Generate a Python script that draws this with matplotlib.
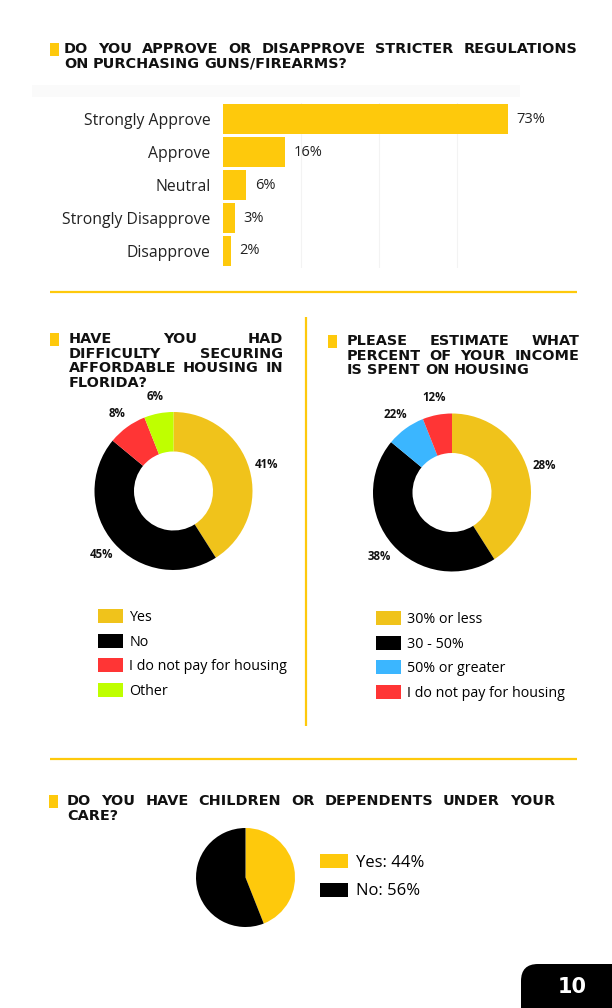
import numpy as np
import matplotlib
matplotlib.use("Agg")
import matplotlib.pyplot as plt
from matplotlib.patches import Rectangle, FancyBboxPatch

# --- data ---
gun_categories = ["Strongly Approve", "Approve", "Neutral", "Strongly Disapprove", "Disapprove"]
gun_values = [73, 16, 6, 3, 2]

housing_labels = ["Yes", "No", "I do not pay for housing", "Other"]
housing_values = [41, 45, 8, 6]

income_labels = ["30% or less", "30 - 50%", "50% or greater", "I do not pay for housing"]
income_wedges = [41, 45, 8, 6]           # slice sizes as drawn
income_pct_text = ["28%", "38%", "22%", "12%"]  # percentages as printed

children_labels = ["Yes", "No"]
children_values = [44, 56]

# --- colours ---
YELLOW = "#FEC90C"
DONUT_YELLOW = "#F0C31B"
RED = "#FF3535"
LIME = "#BFFF00"
BLUE = "#3BB6FF"
BLACK = "#000000"

W, H = 612, 1008
fig = plt.figure(figsize=(W / 100, H / 100), dpi=100)
fig.patch.set_facecolor("white")

TITLE_FONT = dict(family="DejaVu Sans", weight="bold", size=10.4, color="#111111")
BODY = "Open Sans"


def px_axes(x, y, w, h, **kw):
    return fig.add_axes([x / W, 1 - (y + h) / H, w / W, h / H], **kw)


# overlay in pixel coordinates for titles / rules
ov = px_axes(0, 0, W, H, zorder=0)
ov.set_xlim(0, W)
ov.set_ylim(H, 0)
ov.axis("off")
renderer = fig.canvas.get_renderer()


def justified(line, x0, x1, y, justify=True):
    words = line.split()
    texts = [ov.text(0, y, w, va="center", ha="left", **TITLE_FONT) for w in words]
    widths = [t.get_window_extent(renderer).width for t in texts]
    if justify and len(words) > 1:
        gap = (x1 - x0 - sum(widths)) / (len(words) - 1)
    else:
        gap = texts[0].get_fontsize() * 0.45
    x = x0
    for t, w in zip(texts, widths):
        t.set_x(x)
        x += w + gap


def title_block(lines, x0, x1, y0, marker_x, pitch=14.6):
    ov.add_patch(Rectangle((marker_x, y0 - 6.5), 8.5, 13, color=YELLOW, lw=0))
    for i, line in enumerate(lines):
        justified(line, x0, x1, y0 + i * pitch, justify=(i < len(lines) - 1))


# titles
title_block(["DO YOU APPROVE OR DISAPPROVE STRICTER REGULATIONS",
             "ON PURCHASING GUNS/FIREARMS?"], 64, 577, 49, 50)
title_block(["HAVE YOU HAD", "DIFFICULTY SECURING", "AFFORDABLE HOUSING IN", "FLORIDA?"],
            69, 283, 339, 50)
title_block(["PLEASE ESTIMATE WHAT", "PERCENT OF YOUR INCOME", "IS SPENT ON HOUSING"],
            347, 579, 341, 328)
title_block(["DO YOU HAVE CHILDREN OR DEPENDENTS UNDER YOUR", "CARE?"],
            67, 555, 801, 49)

# rules
ov.plot([50, 577], [292, 292], color=YELLOW, lw=1.6, solid_capstyle="butt")
ov.plot([50, 577], [759, 759], color=YELLOW, lw=1.6, solid_capstyle="butt")
ov.plot([305.5, 305.5], [317, 726], color=YELLOW, lw=1.6, solid_capstyle="butt")
ov.add_patch(Rectangle((32, 85), 488, 12, color="#fafafa", lw=0))

# page number tab
ov.add_patch(FancyBboxPatch((521, 964), 140, 90, boxstyle="round,pad=0,rounding_size=17",
                            fc=BLACK, ec="none"))
ov.text(572, 987, "10", color="white", ha="center", va="center",
        family="DejaVu Sans", weight="bold", size=15)

# --- bar chart ---
px_per_pct = 285 / 73
ax = px_axes(223, 102.5, 77 * px_per_pct, 165)
ax.set_facecolor("none")
ypos = np.arange(len(gun_categories))
bars = ax.barh(ypos, gun_values, height=0.91, color=YELLOW, zorder=2)
ax.set_xlim(0, 77)
ax.set_ylim(len(gun_categories) - 0.5, -0.5)
ax.set_yticks(ypos)
ax.set_yticklabels(gun_categories, family=BODY, size=11.3, color="#222222")
ax.tick_params(axis="y", length=0, pad=9)
ax.set_xticks([20, 40, 60])
ax.tick_params(axis="x", length=0, labelbottom=False)
ax.grid(axis="x", color="#f3f3f3", lw=0.8, zorder=0)
for s in ax.spines.values():
    s.set_visible(False)
ax.bar_label(bars, labels=[f"{v}%" for v in gun_values], padding=6,
             family=BODY, size=10.5, color="#222222")


# --- donuts ---
def donut(cx, cy, r, sizes, colors, pct_text, names, legend_xy, hole=0.5):
    a = px_axes(cx - r, cy - r, 2 * r, 2 * r)
    wedges, _ = a.pie(sizes, colors=colors, startangle=90, counterclock=False,
                      radius=1, wedgeprops=dict(width=hole, edgecolor="none"))
    for wdg, txt in zip(wedges, pct_text):
        ang = np.deg2rad((wdg.theta1 + wdg.theta2) / 2)
        a.text(1.22 * np.cos(ang), 1.22 * np.sin(ang), txt, ha="center", va="center",
               family=BODY, weight="bold", size=8.3, color="#111111", clip_on=False)
    a.set_xlim(-1, 1)
    a.set_ylim(-1, 1)
    a.legend(wedges, names, loc="upper left",
             bbox_to_anchor=(legend_xy[0] / W, 1 - legend_xy[1] / H),
             bbox_transform=fig.transFigure, frameon=False,
             prop=dict(family=BODY, size=10.3), handlelength=1.75, handleheight=1.12,
             handletextpad=0.45, labelspacing=0.62, borderpad=0, borderaxespad=0)
    return a


donut(173.5, 491, 79, housing_values, [DONUT_YELLOW, BLACK, RED, LIME],
      [f"{v}%" for v in housing_values], housing_labels, (98, 609))
donut(452, 492.5, 79, income_wedges, [DONUT_YELLOW, BLACK, BLUE, RED],
      income_pct_text, income_labels, (376, 611))

# --- children pie ---
pa = px_axes(196, 828, 99, 99)
pw, _ = pa.pie(children_values, colors=[YELLOW, BLACK], startangle=90,
               counterclock=False, radius=1, wedgeprops=dict(edgecolor="none"))
pa.set_xlim(-1, 1)
pa.set_ylim(-1, 1)
pa.legend(pw, [f"{n}: {v}%" for n, v in zip(children_labels, children_values)],
          loc="upper left", bbox_to_anchor=(320 / W, 1 - 854 / H),
          bbox_transform=fig.transFigure, frameon=False,
          prop=dict(family=BODY, size=12), handlelength=1.7, handleheight=0.9,
          handletextpad=0.45, labelspacing=0.72, borderpad=0, borderaxespad=0)

fig.savefig("out.png", dpi=100)
